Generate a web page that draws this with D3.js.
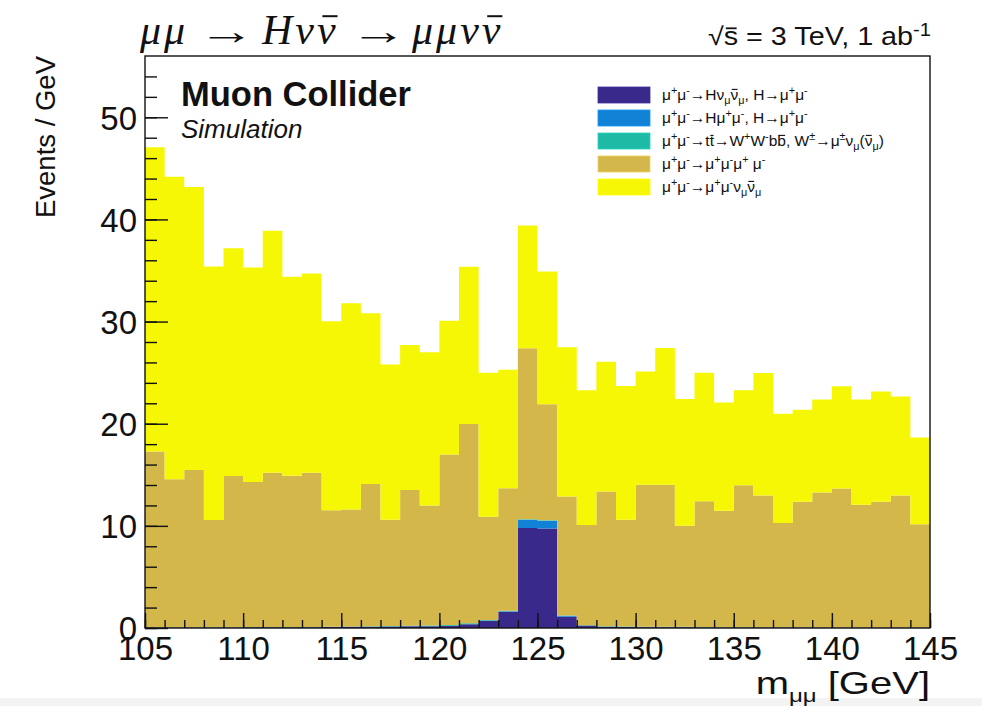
<!DOCTYPE html>
<html>
<head>
<meta charset="utf-8">
<script src="https://cdn.jsdelivr.net/npm/d3@7"></script>
<style>
  html, body { margin: 0; padding: 0; background: #ffffff; }
  svg { display: block; }
  text { font-family: "Liberation Sans", Arial, Helvetica, sans-serif; fill: #111; }
</style>
</head>
<body>
<svg id="chart" width="982" height="706"></svg>
<script>
// Dimuon invariant mass, 1 GeV bins from 105 to 145 GeV (bin edges)
const binEdges = d3.range(105, 146, 1);

// Stacked contributions per bin (Events / GeV), drawn bottom to top
const hNuNu = [0.05, 0.05, 0.05, 0.06, 0.06, 0.07, 0.07, 0.08, 0.08, 0.10,
               0.12, 0.12, 0.14, 0.16, 0.18, 0.23, 0.37, 0.70, 1.60, 9.80,
               9.75, 1.10, 0.25, 0.12, 0.10, 0.08, 0.08, 0.07, 0.06, 0.06,
               0.05, 0.05, 0.05, 0.05, 0.04, 0.04, 0.04, 0.04, 0.04, 0.04];
const hMuMu = [0, 0, 0, 0, 0, 0, 0, 0, 0, 0,
               0, 0, 0, 0, 0, 0, 0, 0.03, 0.05, 0.80,
               0.75, 0.10, 0, 0, 0, 0, 0, 0, 0, 0,
               0, 0, 0, 0, 0, 0, 0, 0, 0, 0];
const ttbar = [0.02, 0.02, 0.02, 0.02, 0.02, 0.02, 0.02, 0.02, 0.02, 0.02,
               0.03, 0.04, 0.05, 0.05, 0.06, 0.06, 0.10, 0.05, 0.03, 0.05,
               0.05, 0.03, 0.03, 0.05, 0.05, 0.04, 0.04, 0.05, 0.04, 0.02,
               0.02, 0.02, 0.02, 0.02, 0.02, 0.02, 0.02, 0.02, 0.02, 0.02];
const fourMu = [17.2, 14.5, 15.4, 10.5, 14.8, 14.2, 15.1, 14.8, 15.1, 11.4,
                11.45, 13.95, 10.4, 13.3, 11.75, 16.7, 19.5, 10.1, 12.0, 16.75,
                11.35, 11.65, 9.8, 13.2, 10.45, 13.9, 13.9, 9.9, 12.3, 11.4,
                13.9, 12.9, 10.2, 12.3, 13.2, 13.6, 12.0, 12.3, 12.9, 10.1];
const muMuNuNu = [29.8, 29.6, 27.7, 24.8, 22.3, 21.0, 23.7, 19.5, 19.5, 18.5,
                  20.2, 16.7, 15.2, 14.2, 15.0, 13.1, 15.4, 14.1, 11.6, 12.0,
                  13.0, 14.6, 13.2, 12.7, 13.1, 11.1, 13.4, 12.4, 12.6, 10.6,
                  9.3, 12.0, 10.7, 9.0, 9.1, 10.0, 10.3, 10.8, 9.7, 8.5];

const seriesKeys = ["hNuNu", "hMuMu", "ttbar", "fourMu", "muMuNuNu"];
const seriesValues = { hNuNu, hMuMu, ttbar, fourMu, muMuNuNu };
const seriesColors = ["#38298a", "#1282d6", "#1dbba5", "#d3b74a", "#f6f704"];

const xTicksMajor = d3.range(105, 146, 5);
const xTicksMinor = d3.range(105, 146, 1);
const yTicksMajor = [0, 10, 20, 30, 40, 50];
const yTicksMinor = d3.range(0, 56, 2);

// Legend entries: [text, style] — "" normal, "u" superscript, "d" subscript, "o" overlined
const legendEntries = [
  [["μ",""],["+","u"],["μ",""],["-","u"],["→Hν",""],["μ","d"],["ν","o"],["μ","d"],[", H→μ",""],["+","u"],["μ",""],["-","u"]],
  [["μ",""],["+","u"],["μ",""],["-","u"],["→Hμ",""],["+","u"],["μ",""],["-","u"],[", H→μ",""],["+","u"],["μ",""],["-","u"]],
  [["μ",""],["+","u"],["μ",""],["-","u"],["→t",""],["t","o"],["→W",""],["+","u"],["W",""],["-","u"],["b",""],["b","o"],[", W",""],["±","u"],["→μ",""],["±","u"],["ν",""],["μ","d"],["(",""],["ν","o"],["μ","d"],[")",""]],
  [["μ",""],["+","u"],["μ",""],["-","u"],["→μ",""],["+","u"],["μ",""],["-","u"],["μ",""],["+","u"],[" μ",""],["-","u"]],
  [["μ",""],["+","u"],["μ",""],["-","u"],["→μ",""],["+","u"],["μ",""],["-","u"],["ν",""],["μ","d"],["ν","o"],["μ","d"]]
];

const svg = d3.select("#chart");
const W = 982, H = 706;
const plot = { left: 145, right: 930, top: 56, bottom: 628 };

svg.append("rect").attr("width", W).attr("height", H).attr("fill", "#ffffff");
svg.append("rect").attr("x", 0).attr("y", 698).attr("width", W).attr("height", 8).attr("fill", "#f3f3f3");

const x = d3.scaleLinear().domain([105, 145]).range([plot.left, plot.right]);
const y = d3.scaleLinear().domain([0, 56]).range([plot.bottom, plot.top]);

// Stack the contributions
const rows = binEdges.slice(0, -1).map((lo, i) => {
  const r = { lo, hi: lo + 1 };
  seriesKeys.forEach(k => r[k] = seriesValues[k][i]);
  return r;
});
const stacked = d3.stack().keys(seriesKeys)(rows);

const area = d3.area()
  .x(d => x(d.x))
  .y0(d => y(d.y0))
  .y1(d => y(d.y1));

stacked.forEach((layer, li) => {
  const pts = [];
  layer.forEach(d => {
    pts.push({ x: d.data.lo, y0: d[0], y1: d[1] });
    pts.push({ x: d.data.hi, y0: d[0], y1: d[1] });
  });
  svg.append("path")
    .attr("d", area(pts))
    .attr("fill", seriesColors[li])
    .attr("stroke", "none");
});

// Frame
svg.append("rect")
  .attr("x", plot.left).attr("y", plot.top)
  .attr("width", plot.right - plot.left).attr("height", plot.bottom - plot.top)
  .attr("fill", "none").attr("stroke", "#111").attr("stroke-width", 1.4);

// Axes (ticks drawn inward)
const yMinor = svg.append("g").attr("transform", `translate(${plot.left},0)`)
  .call(d3.axisLeft(y).tickValues(yTicksMinor).tickSizeInner(-12).tickSizeOuter(0).tickFormat(""));
const yMajor = svg.append("g").attr("transform", `translate(${plot.left},0)`)
  .call(d3.axisLeft(y).tickValues(yTicksMajor).tickSizeInner(-23).tickSizeOuter(0).tickPadding(8));
const xMinor = svg.append("g").attr("transform", `translate(0,${plot.bottom})`)
  .call(d3.axisBottom(x).tickValues(xTicksMinor).tickSizeInner(-8).tickSizeOuter(0).tickFormat(""));
const xMajor = svg.append("g").attr("transform", `translate(0,${plot.bottom})`)
  .call(d3.axisBottom(x).tickValues(xTicksMajor).tickSizeInner(-15).tickSizeOuter(0).tickPadding(7));

[yMinor, yMajor, xMinor, xMajor].forEach(g => {
  g.select(".domain").remove();
  g.selectAll(".tick line").attr("stroke", "#111").attr("stroke-width", 1.4);
  g.selectAll("text").attr("fill", "#111")
    .style("font-family", '"Liberation Sans", Arial, sans-serif');
});
yMajor.selectAll("text").attr("font-size", 33).attr("dy", "0.36em");
xMajor.selectAll("text").attr("font-size", 33).attr("dy", "0.76em");

// Helper: rich text with super/subscripts and overlines
function richText(parent, xPos, yPos, parts, size, anchor, subScale) {
  const ss = subScale || 0.7;
  const t = parent.append("text").attr("x", xPos).attr("y", yPos)
    .attr("font-size", size).attr("text-anchor", anchor || "start");
  let cur = 0, idx = 0;
  const bars = [];
  parts.forEach(([str, mode]) => {
    let target = 0, fs = size;
    if (mode === "u") { target = -0.38 * size; fs = ss * size; }
    if (mode === "d") { target = 0.25 * size; fs = ss * size; }
    t.append("tspan").attr("dy", target - cur).attr("font-size", fs).text(str);
    cur = target;
    if (mode === "o") for (let k = 0; k < str.length; k++) bars.push(idx + k);
    idx += str.length;
  });
  const node = t.node();
  bars.forEach(ci => {
    const e = node.getExtentOfChar(ci);
    const yb = e.y + e.height * 0.2;
    parent.append("line")
      .attr("x1", e.x + e.width * 0.15).attr("x2", e.x + e.width * 0.9)
      .attr("y1", yb).attr("y2", yb)
      .attr("stroke", "#111").attr("stroke-width", Math.max(0.8, size / 14));
  });
  return t;
}

// Legend
const legend = svg.append("g");
legendEntries.forEach((parts, i) => {
  const top = 87 + i * 23;
  legend.append("rect").attr("x", 598).attr("y", top).attr("width", 52).attr("height", 16)
    .attr("fill", seriesColors[i]).attr("stroke", d3.color(seriesColors[i]).brighter(0.4)).attr("stroke-width", 0.8);
  richText(legend, 662, top + 13, parts, 15.5, "start");
});

// Labels
svg.append("text").attr("x", 181).attr("y", 106)
  .attr("font-size", 34.5).attr("font-weight", "bold").text("Muon Collider");
svg.append("text").attr("x", 181).attr("y", 138)
  .attr("font-size", 26).attr("font-style", "italic").text("Simulation");

const energyLabel = svg.append("g").attr("transform", "translate(931,45) scale(1.15,1)");
richText(energyLabel, 0, 0, [["√",""],["s","o"],[" = 3 TeV, 1 ab",""],["-1","u"]], 25, "end");

svg.append("text")
  .attr("transform", `translate(55,56) rotate(-90)`)
  .attr("text-anchor", "end").attr("font-size", 27.5).text("Events / GeV");

// x-axis title, drawn slightly wide
const xTitle = svg.append("g").attr("transform", "translate(930,694) scale(1.25,1)");
richText(xTitle, 0, 0, [["m",""],["μμ","d"],[" [GeV]",""]], 32, "end", 0.6);

// Process title: italic symbols with long upright arrows
const serif = '"Liberation Serif", "DejaVu Serif", serif';
const titleSymbols = [["μμ", 140, []], ["Hνν", 262, [2]], ["μμνν", 412, [3]]];
titleSymbols.forEach(([s, px, barred]) => {
  const t = svg.append("text").attr("x", px).attr("y", 44)
    .attr("font-size", 42).attr("font-style", "italic")
    .attr("letter-spacing", 3)
    .style("font-family", serif).text(s);
  barred.forEach(ci => {
    const e = t.node().getExtentOfChar(ci);
    const yb = e.y + e.height * 0.2;
    svg.append("line").attr("x1", e.x + e.width * 0.25).attr("x2", e.x + e.width * 0.95)
      .attr("y1", yb).attr("y2", yb).attr("stroke", "#111").attr("stroke-width", 2);
  });
});
[198, 350].forEach(px => {
  svg.append("text").attr("transform", `translate(${px},44) scale(1.5,1)`)
    .attr("font-size", 38).style("font-family", serif).text("→");
});
</script>
</body>
</html>
